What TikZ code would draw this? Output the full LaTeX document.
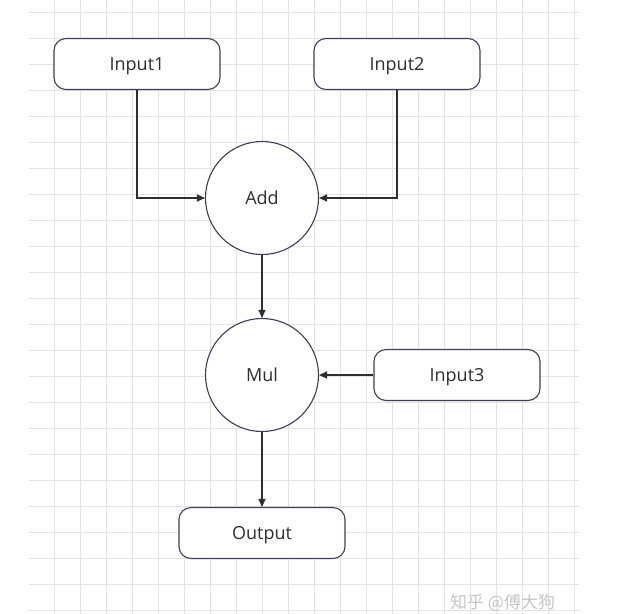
\documentclass[tikz,border=0pt]{standalone}
\usepackage{fontspec}
\setmainfont{Open Sans}
\newfontfamily\cjkfont{Noto Sans CJK SC}
\usetikzlibrary{arrows.meta,shapes.geometric}
\definecolor{gridc}{HTML}{E3E3E3}
\definecolor{edgec}{HTML}{3E3E5C}
\definecolor{txtc}{HTML}{2E2E2E}
\definecolor{arrc}{HTML}{2E2E2E}
\begin{document}
\begin{tikzpicture}[x=1pt,y=-1pt,
  boxnode/.style={draw=edgec,line width=1.1pt,fill=white,rounded corners=12pt,
    minimum width=166pt,minimum height=51pt,inner sep=0pt,
    text height=13pt,text depth=0pt,
    font=\fontsize{18}{20}\selectfont,text=txtc},
  opnode/.style={draw=edgec,line width=1.1pt,fill=white,circle,
    minimum size=113pt,inner sep=0pt,
    text height=13pt,text depth=0pt,
    font=\fontsize{18}{20}\selectfont,text=txtc},
  link/.style={draw=arrc,line width=1.1pt,-{Triangle[length=8pt,width=7pt]}},
  gridline/.style={draw=gridc,line width=1pt}]
\useasboundingbox (0,0) rectangle (633,614);
\fill[white] (0,0) rectangle (633,614);
% grid
\foreach \k in {0,...,23} {
  \draw[gridline] (29,{12+26*\k}) -- (579,{12+26*\k});
}
\foreach \k in {0,...,20} {
  \draw[gridline] ({54+26*\k},0) -- ({54+26*\k},614);
}
% nodes
\node[boxnode] (in1) at (137,64) {Input1};
\node[boxnode] (in2) at (397,64) {Input2};
\node[opnode] (add) at (262,198) {Add};
\node[opnode] (mul) at (262,375) {Mul};
\node[boxnode] (in3) at (457,375) {Input3};
\node[boxnode] (out) at (262,533) {Output};
% connectors
\draw[link] (in1.south) |- (add.west);
\draw[link] (in2.south) |- (add.east);
\draw[link] (add.south) -- (mul.north);
\draw[link] (in3.west) -- (mul.east);
\draw[link] (mul.south) -- (out.north);
% watermark
\node[anchor=base west,inner sep=0pt,text=gray!45,font=\cjkfont\fontsize{17}{19}\selectfont] (wm) at (450,608) {知乎 @傅大狗};
\end{tikzpicture}
\end{document}
